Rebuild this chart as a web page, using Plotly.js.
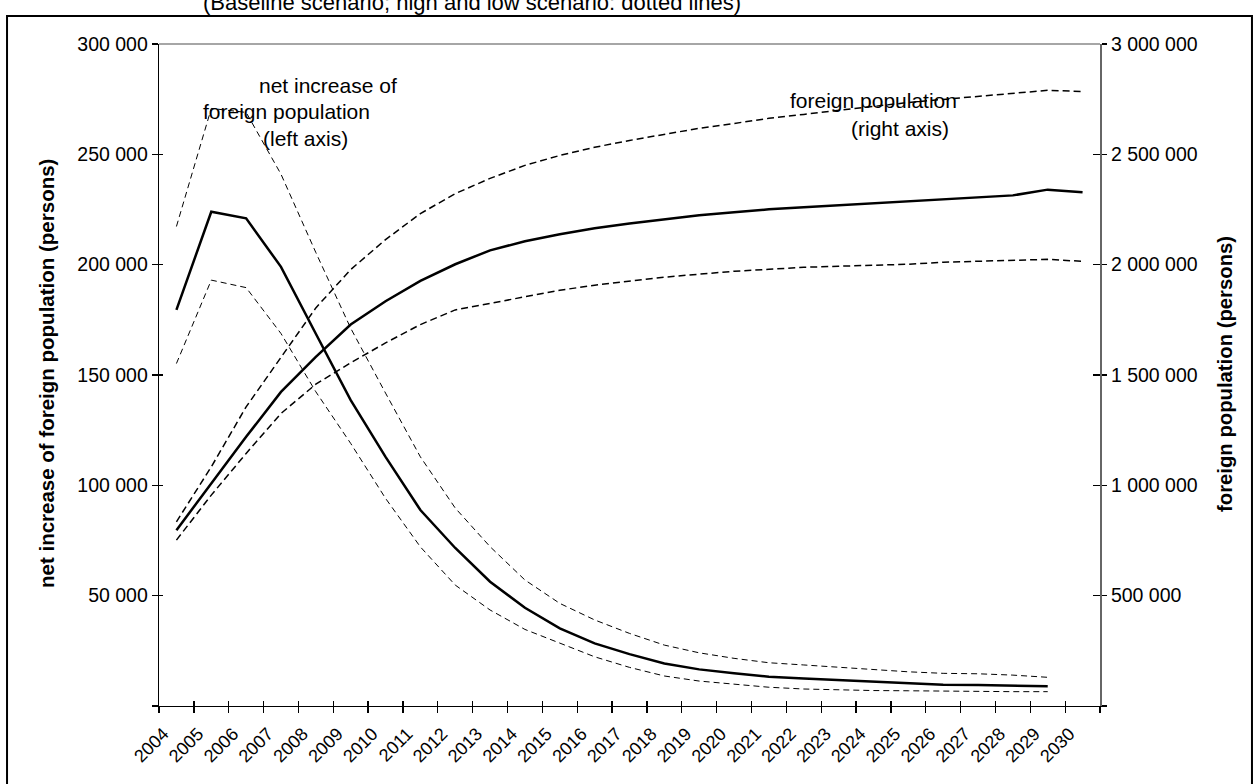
<!DOCTYPE html>
<html>
<head>
<meta charset="utf-8">
<script src="https://cdn.plot.ly/plotly-3.0.1.min.js"></script>
<style>html,body{margin:0;padding:0;background:#fff;}#chart{width:1258px;height:784px;}</style>
</head>
<body>
<div id="chart"></div>
<script>
var years = [2004,2005,2006,2007,2008,2009,2010,2011,2012,2013,2014,2015,2016,2017,2018,2019,2020,2021,2022,2023,2024,2025,2026,2027,2028,2029,2030];
var yearLabels = ['2004','2005','2006','2007','2008','2009','2010','2011','2012','2013','2014','2015','2016','2017','2018','2019','2020','2021','2022','2023','2024','2025','2026','2027','2028','2029','2030'];

// net increase of foreign population (left axis), 2004-2029
var netBase = [179500,224000,221000,199000,168700,138600,112900,88800,71600,56300,44500,35200,28400,23500,19300,16600,14800,13300,12500,11800,11000,10300,9600,9500,9400,9000,null];
var netHigh = [217300,270800,269000,241000,205500,171200,141800,112900,89700,72200,57100,46500,39000,32900,27600,24100,21600,19600,18600,17500,16300,15500,14800,14600,14000,13000,null];
var netLow  = [155200,193000,189600,168800,142400,119000,94100,72100,54800,43500,34700,28400,22300,17500,13600,11300,9800,8500,7700,7300,7000,6900,6700,6600,6500,6500,null];

// foreign population (right axis), 2004-2030
var popBase = [797000,1008600,1219700,1423500,1582000,1728600,1834200,1926300,2001800,2065000,2106000,2138000,2165000,2187000,2206000,2224000,2237000,2251000,2260000,2269000,2278000,2287000,2296000,2305000,2314000,2340000,2328000];
var popHigh = [834700,1083800,1355500,1582000,1804000,1977800,2113600,2231400,2322000,2391000,2450000,2495000,2532000,2563000,2591000,2618000,2640000,2663000,2681000,2699000,2717000,2735000,2749000,2763000,2776000,2790000,2785000];
var popLow  = [751800,955600,1144500,1325600,1458300,1555000,1645500,1728600,1795000,1825000,1857000,1884000,1907000,1925000,1943000,1957000,1970000,1979000,1988000,1993000,1997000,2002000,2011000,2015000,2020000,2024000,2015000];

var leftTickVals = [0,50000,100000,150000,200000,250000,300000];
var leftTickText = ['','50 000','100 000','150 000','200 000','250 000','300 000'];
var rightTickVals = [0,500000,1000000,1500000,2000000,2500000,3000000];
var rightTickText = ['','500 000','1 000 000','1 500 000','2 000 000','2 500 000','3 000 000'];

// helper positions for the inner half of the cross ticks (category boundaries)
var boundaryIdx = years.map(function(y,i){return i-0.5;}).concat([years.length-0.5]);
var idxRange = [-0.5, years.length-0.5];

var FONT = '"Liberation Sans", Arial, sans-serif';
var dashThin = '6px,4px';
var dashPop = '7px,4px';

var traces = [
  {x: yearLabels, y: popHigh, xaxis:'x', yaxis:'y2', mode:'lines', line:{color:'#000', width:1.5, dash:dashPop}, hoverinfo:'skip'},
  {x: yearLabels, y: popLow,  xaxis:'x', yaxis:'y2', mode:'lines', line:{color:'#000', width:1.5, dash:dashPop}, hoverinfo:'skip'},
  {x: yearLabels, y: popBase, xaxis:'x', yaxis:'y2', mode:'lines', line:{color:'#000', width:2.5}, hoverinfo:'skip'},
  {x: yearLabels, y: netHigh, xaxis:'x', yaxis:'y', mode:'lines', line:{color:'#000', width:1, dash:dashThin}, hoverinfo:'skip'},
  {x: yearLabels, y: netLow,  xaxis:'x', yaxis:'y', mode:'lines', line:{color:'#000', width:1, dash:dashThin}, hoverinfo:'skip'},
  {x: yearLabels, y: netBase, xaxis:'x', yaxis:'y', mode:'lines', line:{color:'#000', width:2.5}, hoverinfo:'skip'},
  // empty helper traces so the overlay tick axes are drawn
  {x: [], y: [], xaxis:'x3', yaxis:'y', mode:'lines', hoverinfo:'skip'},
  {x: [], y: [], xaxis:'x', yaxis:'y3', mode:'lines', hoverinfo:'skip'},
  {x: [], y: [], xaxis:'x', yaxis:'y4', mode:'lines', hoverinfo:'skip'}
];

var layout = {
  width:1258, height:784,
  margin:{l:159, r:158, t:44, b:78, pad:0},
  paper_bgcolor:'#fff', plot_bgcolor:'#fff',
  showlegend:false,
  font:{family:FONT, color:'#000', size:19},
  xaxis:{type:'category', categoryorder:'array', categoryarray:yearLabels, range:idxRange,
         tickson:'boundaries', ticks:'outside', ticklen:6, tickcolor:'#000', tickwidth:1.3,
         tickangle:-45, ticklabelstandoff:9, ticklabelshift:-13, tickfont:{family:FONT, size:18, color:'#000'},
         showline:true, linecolor:'#000', linewidth:1.3, showgrid:false, zeroline:false, fixedrange:true},
  xaxis3:{overlaying:'x', anchor:'y', type:'linear', range:idxRange, tickmode:'array', tickvals:boundaryIdx, showticklabels:false,
         ticks:'inside', ticklen:5, tickcolor:'#000', tickwidth:1.3, showline:false, showgrid:false, zeroline:false, fixedrange:true},
  yaxis:{range:[0,300000], tickmode:'array', tickvals:leftTickVals, ticktext:leftTickText,
         ticks:'outside', ticklen:6, tickcolor:'#000', tickwidth:1.3,
         showline:true, linecolor:'#000', linewidth:1.3, showgrid:false, zeroline:false, fixedrange:true,
         tickfont:{family:FONT, size:19.5, color:'#000'}},
  yaxis3:{overlaying:'y', anchor:'x', range:[0,300000], tickmode:'array', tickvals:leftTickVals, showticklabels:false,
         ticks:'inside', ticklen:4, tickcolor:'#000', tickwidth:1.3, showline:false, showgrid:false, zeroline:false, fixedrange:true},
  yaxis2:{overlaying:'y', anchor:'x', side:'right', range:[0,3000000], tickmode:'array', tickvals:rightTickVals, ticktext:rightTickText,
         ticks:'outside', ticklen:5, tickcolor:'#000', tickwidth:1.3,
         showline:true, linecolor:'#666', linewidth:2, showgrid:false, zeroline:false, fixedrange:true,
         tickfont:{family:FONT, size:19.5, color:'#000'}},
  yaxis4:{overlaying:'y', anchor:'x', side:'right', range:[0,3000000], tickmode:'array', tickvals:rightTickVals, showticklabels:false,
         ticks:'inside', ticklen:7, tickcolor:'#000', tickwidth:1.3, showline:false, showgrid:false, zeroline:false, fixedrange:true},
  shapes:[
    {type:'line', xref:'paper', yref:'paper', x0:0, x1:1, y0:1, y1:1, line:{color:'#888', width:1.5}},
    {type:'rect', xref:'paper', yref:'paper', x0:-0.1615, x1:1.1615, y0:-0.2, y1:1.0423, line:{color:'#000', width:2}, fillcolor:'rgba(0,0,0,0)'}
  ],
  annotations:[
    {xref:'paper', yref:'paper', x:0.3326, y:1.0408, xanchor:'center', yanchor:'bottom', showarrow:false,
     text:'(Baseline scenario; high and low scenario: dotted lines)', font:{family:FONT, size:22, color:'#000'}},
    {xref:'paper', yref:'paper', x:0.1795, y:0.9366, xanchor:'center', yanchor:'middle', showarrow:false,
     text:'net increase of', font:{family:FONT, size:21, color:'#000'}},
    {xref:'paper', yref:'paper', x:0.1360, y:0.8973, xanchor:'center', yanchor:'middle', showarrow:false,
     text:'foreign population', font:{family:FONT, size:21, color:'#000'}},
    {xref:'paper', yref:'paper', x:0.1552, y:0.8565, xanchor:'center', yanchor:'middle', showarrow:false,
     text:'(left axis)', font:{family:FONT, size:21, color:'#000'}},
    {xref:'paper', yref:'paper', x:0.7598, y:0.9139, xanchor:'center', yanchor:'middle', showarrow:false,
     text:'foreign population', font:{family:FONT, size:21, color:'#000'}},
    {xref:'paper', yref:'paper', x:0.7875, y:0.8731, xanchor:'center', yanchor:'middle', showarrow:false,
     text:'(right axis)', font:{family:FONT, size:21, color:'#000'}},
    {xref:'paper', yref:'paper', x:-0.1201, y:0.503, xanchor:'center', yanchor:'middle', showarrow:false, textangle:-90,
     text:'<b>net increase of foreign population (persons)</b>', font:{family:FONT, size:20.5, color:'#000'}},
    {xref:'paper', yref:'paper', x:1.1328, y:0.5015, xanchor:'center', yanchor:'middle', showarrow:false, textangle:-90,
     text:'<b>foreign population (persons)</b>', font:{family:FONT, size:20.3, color:'#000'}}
  ]
};

Plotly.newPlot('chart', traces, layout, {staticPlot:true, displayModeBar:false});
</script>
</body>
</html>
